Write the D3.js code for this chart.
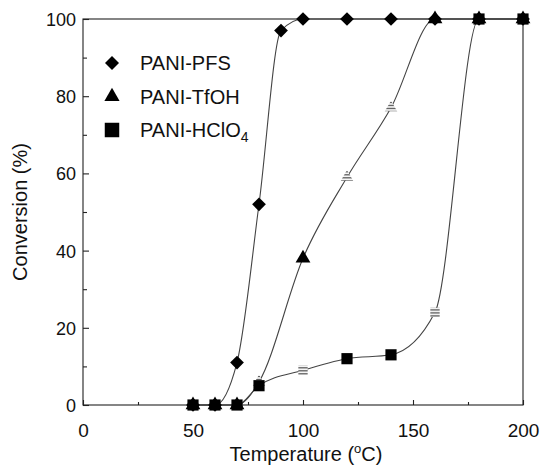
<!DOCTYPE html>
<html>
<head>
<meta charset="utf-8">
<script src="https://cdn.jsdelivr.net/npm/d3@7"></script>
<style>
  body { margin: 0; background: #fff; }
  svg text { font-family: Arial, "Liberation Sans", sans-serif; fill: #111; }
</style>
</head>
<body>
<svg id="chart" width="545" height="473"></svg>
<script>
  "use strict";

  // data
  var tempPFS = [50, 60, 70, 80, 90, 100, 120, 140, 160, 180, 200];
  var convPFS = [0, 0, 11, 52, 97, 100, 100, 100, 100, 100, 100];
  var tempTfOH = [50, 60, 70, 80, 100, 120, 140, 160, 180, 200];
  var convTfOH = [0, 0, 0, 6, 38, 59, 77, 100, 100, 100];
  var tempHClO4 = [50, 60, 70, 80, 100, 120, 140, 160, 180, 200];
  var convHClO4 = [0, 0, 0, 5, 9, 12, 13, 24, 100, 100];
  var seriesNames = ["PANI-PFS", "PANI-TfOH", "PANI-HClO"];
  var xTicks = [0, 50, 100, 150, 200];
  var yTicks = [0, 20, 40, 60, 80, 100];

  var svg = d3.select('#chart');
  var margin = { left: 83, right: 22, top: 19, bottom: 68 };
  var width = 545 - margin.left - margin.right;
  var height = 473 - margin.top - margin.bottom;

  var x = d3.scaleLinear().domain([0, 200]).range([margin.left, margin.left + width]);
  var y = d3.scaleLinear().domain([0, 100]).range([margin.top + height, margin.top]);

  // hatch for the washed-out markers in the scan
  var defs = svg.append('defs');
  var hatch = defs.append('pattern')
    .attr('id', 'hatch')
    .attr('patternUnits', 'userSpaceOnUse')
    .attr('width', 4)
    .attr('height', 3);
  hatch.append('rect').attr('width', 4).attr('height', 3).attr('fill', '#fff');
  hatch.append('rect').attr('width', 4).attr('height', 1.2).attr('fill', '#444');

  // frame
  svg.append('rect')
    .attr('x', x(0))
    .attr('y', y(100))
    .attr('width', x(200) - x(0))
    .attr('height', y(0) - y(100))
    .attr('fill', 'none')
    .attr('stroke', '#222')
    .attr('stroke-width', 1.1);

  // axes, ticks pointing inward
  var xAxis = svg.append('g')
    .attr('transform', 'translate(0,' + y(0) + ')')
    .call(d3.axisBottom(x).tickValues(xTicks).tickSize(-5).tickPadding(19));
  var xMinor = svg.append('g')
    .attr('transform', 'translate(0,' + y(0) + ')')
    .call(d3.axisBottom(x).tickValues([25, 75, 125, 175]).tickSize(-3).tickFormat(''));
  var yAxis = svg.append('g')
    .attr('transform', 'translate(' + x(0) + ',0)')
    .call(d3.axisLeft(y).tickValues(yTicks).tickSize(-6).tickPadding(7));
  var yMinor = svg.append('g')
    .attr('transform', 'translate(' + x(0) + ',0)')
    .call(d3.axisLeft(y).tickValues([10, 30, 50, 70, 90]).tickSize(-4).tickFormat(''));

  [xAxis, xMinor, yAxis, yMinor].forEach(function(g) {
    g.select('.domain').remove();
    g.selectAll('line').attr('stroke', '#222').attr('stroke-width', 1.1);
  });
  xAxis.selectAll('text').attr('font-size', 19).attr('fill', '#111');
  yAxis.selectAll('text').attr('font-size', 18).attr('fill', '#111').attr('dy', '0.36em');

  // axis titles
  var xTitle = svg.append('text')
    .attr('x', (x(0) + x(200)) / 2 + 3)
    .attr('y', 461)
    .attr('text-anchor', 'middle')
    .attr('font-size', 20)
    .attr('fill', '#111');
  xTitle.append('tspan').text('Temperature (');
  xTitle.append('tspan').attr('font-size', 13).attr('dy', -8).text('o');
  xTitle.append('tspan').attr('dy', 8).text('C)');

  svg.append('text')
    .attr('transform', 'translate(27,' + ((y(0) + y(100)) / 2) + ') rotate(-90)')
    .attr('text-anchor', 'middle')
    .attr('font-size', 20)
    .attr('fill', '#111')
    .text('Conversion (%)');

  // series
  var zip = function(xs, ys) {
    return xs.map(function(t, i) { return { t: t, c: ys[i] }; });
  };
  var series = [
    { name: seriesNames[0], shape: d3.symbolDiamond2, size: 120, legendSize: 125, pts: zip(tempPFS, convPFS), faded: [] },
    { name: seriesNames[1], shape: d3.symbolTriangle, size: 95, legendSize: 100, pts: zip(tempTfOH, convTfOH), faded: [80, 120, 140] },
    { name: seriesNames[2], shape: d3.symbolSquare, size: 125, legendSize: 210, pts: zip(tempHClO4, convHClO4), faded: [100, 160] }
  ];

  var line = d3.line()
    .x(function(d) { return x(d.t); })
    .y(function(d) { return y(d.c); })
    .curve(d3.curveMonotoneX);

  svg.selectAll('path.series')
    .data(series)
    .enter()
    .append('path')
    .classed('series', true)
    .attr('d', function(s) { return line(s.pts); })
    .attr('fill', 'none')
    .attr('stroke', '#444')
    .attr('stroke-width', 1.1);

  // triangles under diamonds, squares on top (as in the figure)
  [series[1], series[0], series[2]].forEach(function(s) {
    svg.selectAll(null)
      .data(s.pts)
      .enter()
      .append('path')
      .attr('transform', function(d) { return 'translate(' + x(d.t) + ',' + y(d.c) + ')'; })
      .attr('d', function(d) {
        var faded = s.faded.indexOf(d.t) >= 0;
        return d3.symbol().type(s.shape).size(faded ? s.size * 0.7 : s.size)();
      })
      .attr('fill', function(d) { return s.faded.indexOf(d.t) >= 0 ? 'url(#hatch)' : '#000'; });
  });

  // legend
  var legend = svg.append('g');
  var legendItems = legend.selectAll('g')
    .data(series)
    .enter()
    .append('g')
    .attr('transform', function(s, i) { return 'translate(112,' + (63 + i * 33.5) + ')'; });

  legendItems.append('path')
    .attr('d', function(s) { return d3.symbol().type(s.shape).size(s.legendSize)(); })
    .attr('fill', '#000');

  var legendText = legendItems.append('text')
    .attr('x', 28)
    .attr('y', 7)
    .attr('font-size', 20)
    .attr('fill', '#111');
  legendText.append('tspan').attr('fill', '#111').text(function(s) { return s.name; });
  legendText.filter(function(s, i) { return i === 2; })
    .append('tspan')
    .attr('font-size', 14)
    .attr('dy', 5)
    .attr('fill', '#111')
    .text('4');
</script>
</body>
</html>
